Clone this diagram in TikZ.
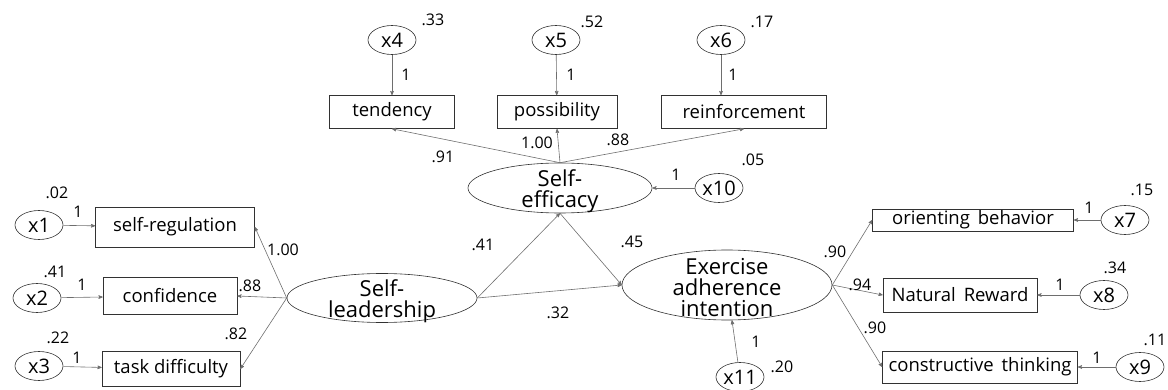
\documentclass[tikz,border=0pt]{standalone}
\usepackage{fontspec}
\setmainfont{Open Sans}
\usetikzlibrary{shapes,arrows}
\definecolor{edgegray}{RGB}{110,110,110}
\definecolor{linegray}{RGB}{50,50,50}
\tikzstyle{every picture}=[x=1pt, y=-1pt, >=stealth', line width=0.6pt]
\tikzstyle{obs}=[draw=linegray, rectangle, inner sep=0pt, font=\fontsize{18.5}{20}\selectfont]
\tikzstyle{err}=[draw=linegray, ellipse, inner sep=0pt, minimum width=48, minimum height=29,%
	font=\fontsize{20}{22}\selectfont]
\tikzstyle{lat}=[draw=linegray, ellipse, inner sep=0pt]
\tikzstyle{lattext}=[align=center, inner sep=0pt, yshift=-3pt, font=\fontsize{22}{21}\selectfont]
\tikzstyle{lbl}=[inner sep=0pt, font=\fontsize{16}{17}\selectfont]
\tikzstyle{link}=[->, draw=edgegray]

\begin{document}
\begin{tikzpicture}
	\useasboundingbox (0,0) rectangle (1168,390);
	% observed variables
	\node[obs, minimum width=159, minimum height=40] (sr) at (175,227) {self-regulation};
	\node[obs, minimum width=134, minimum height=37] (conf) at (170,296) {confidence};
	\node[obs, minimum width=138, minimum height=35] (td) at (171,369) {task difficulty};
	\node[obs, minimum width=125, minimum height=33] (tend) at (392,112) {tendency};
	\node[obs, minimum width=120, minimum height=33] (poss) at (557,112) {possibility};
	\node[obs, minimum width=165, minimum height=33] (reinf) at (744,112) {reinforcement};
	\node[obs, minimum width=201, minimum height=22] (ob) at (973,220) {orienting\, behavior};
	\node[obs, minimum width=154, minimum height=34] (nr) at (960,295) {Natural\, Reward};
	\node[obs, minimum width=195, minimum height=32] (ct) at (980,367) {constructive\, thinking};
	% latent variables
	\node[lat, minimum width=190, minimum height=49,
		label={[lattext]center:Self-\\leadership}] (sl) at (382,298) {};
	\node[lat, minimum width=184, minimum height=50,
		label={[lattext]center:Self-\\efficacy}] (se) at (560,188) {};
	\node[lat, minimum width=210, minimum height=70,
		label={[lattext]center:Exercise\\adherence\\intention}] (ex) at (727,285) {};
	% error terms
	\node[err] (x1) at (39,225) {x1};
	\node[err] (x2) at (37,298) {x2};
	\node[err] (x3) at (39,366) {x3};
	\node[err] (x4) at (392,40) {x4};
	\node[err] (x5) at (556,40) {x5};
	\node[err] (x6) at (721,40) {x6};
	\node[err] (x7) at (1125,220) {x7};
	\node[err] (x8) at (1104,295) {x8};
	\node[err] (x9) at (1140,367) {x9};
	\node[err] (x10) at (719,188) {x10};
	\node[err] (x11) at (740,377) {x11};

	\foreach \e/\v in {x1/sr,x2/conf,x3/td,x4/tend,x5/poss,x7/ob,x8/nr,x9/ct,x10/se,x11/ex}
		\path (\e) edge[link] (\v);
	\path (x6) edge[link] (x6 |- reinf.north);
	\foreach \v in {sr,conf,td}
		\path (sl.west) edge[link] (\v.east);
	\foreach \v in {tend,poss,reinf}
		\path (se.north) edge[link] (\v.south);
	\foreach \v in {ob,nr,ct}
		\path (ex.east) edge[link] (\v.west);
	\path (sl.east) edge[link] (se.south);
	\path (sl.east) edge[link] (ex.west);
	\path (se.south) edge[link] (ex.west);

	% estimates
	\foreach \n/\x/\y/\t in {a/57/193/.02, b/78/212/1, c/55/272/.41, d/82/285/1, e/58/338/.22, f/77/358/1,
		g/283/250/1.00, h/250/286/.88, i/236/334/.82,
		j/433/20/.33, k/592/22/.52, l/762/22/.17, m/406/75/1, n/571/75/1, o/733/75/1,
		p/443/157/.91, q/537/143/1.00, r/618/140/.88, s/753/160/.05, t/676/175/1,
		u/483/245/.41, v/558/313/.32, w/632/242/.45, y/756/342/1, z/782/367/.20,
		A/835/252/.90, B/860/285/.94, C/875/328/.90,
		D/1142/190/.15, E/1089/208/1, F/1115/268/.34, G/1060/285/1, H/1155/340/.11, I/1097/358/1}
		\node[lbl] (est\n) at (\x,\y) {\t};
\end{tikzpicture}
\end{document}
